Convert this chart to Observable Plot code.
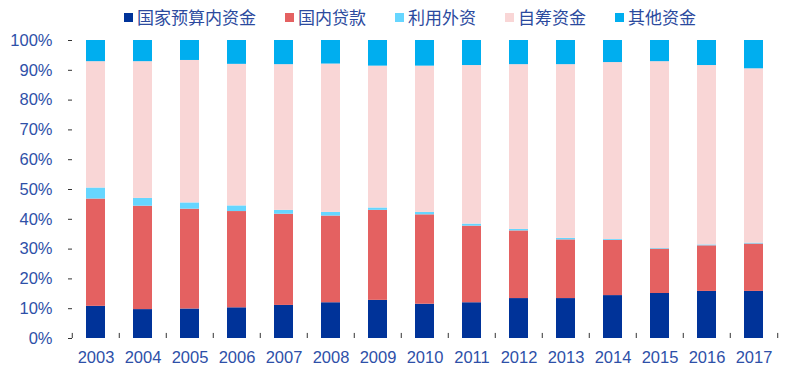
<!DOCTYPE html>
<html><head><meta charset="utf-8">
<script src="https://cdn.jsdelivr.net/npm/d3@7"></script>
<script src="https://cdn.jsdelivr.net/npm/@observablehq/plot@0.6"></script>
<style>
body{margin:0;background:#fff;}
#wrap{position:relative;width:789px;height:368px;}
#legend{position:absolute;left:124px;top:6px;display:flex;gap:29px;font-family:"Noto Sans CJK SC",sans-serif;font-size:17px;color:#2B4A9E;line-height:22px;}
#legend .it{display:flex;align-items:center;gap:4px;}
#legend .sw{width:9px;height:9px;display:inline-block;}
</style></head>
<body><div id="wrap"><div id="legend"></div></div>
<script>
const years = ["2003","2004","2005","2006","2007","2008","2009","2010","2011","2012","2013","2014","2015","2016","2017"];
const series = ["国家预算内资金","国内贷款","利用外资","自筹资金","其他资金"];
const colors = ["#003399","#E46161","#66D6FF","#F9D6D6","#00AEEF"];
const budget   = [10.8, 9.7, 9.9,10.3,11.1,12.0,12.8,11.5,12.0,13.4,13.4,14.4,15.1,15.8,15.8];
const loans    = [36.0,34.7,33.5,32.3,30.6,29.1,30.2,30.0,25.7,22.7,19.7,18.5,14.9,15.3,15.9];
const foreign  = [ 3.7, 2.6, 2.1, 1.9, 1.3, 1.2, 0.8, 0.8, 0.7, 0.5, 0.5, 0.3, 0.2, 0.3, 0.3];
const selfRaised=[42.4,45.9,47.8,47.5,48.9,49.8,47.6,49.1,53.2,55.3,58.3,59.4,62.7,60.2,58.5];
const other    = [ 7.1, 7.1, 6.7, 8.0, 8.1, 7.9, 8.6, 8.6, 8.4, 8.1, 8.1, 7.4, 7.1, 8.4, 9.5];
const yTicks = [0,0.1,0.2,0.3,0.4,0.5,0.6,0.7,0.8,0.9,1.0];

const cols = [budget, loans, foreign, selfRaised, other];
const data = [];
years.forEach((yr,i)=>series.forEach((s,j)=>data.push({year:yr, series:s, value:cols[j][i]/100})));

const step = (789-68-9)/years.length;
const txt = "#2E50A8";
const chart = Plot.plot({
  width:789, height:368,
  marginLeft:68, marginRight:9, marginTop:40, marginBottom:30,
  style:{fontFamily:"'Liberation Sans', Arial, sans-serif", fontSize:"16.5px", background:"#fff"},
  x:{type:"band", domain:years, paddingInner:0.6, paddingOuter:0.3},
  y:{domain:[0,1]},
  color:{domain:series, range:colors},
  marks:[
    Plot.barY(data,{x:"year", y:"value", fill:"series", order:series}),
    Plot.axisY({ticks:yTicks, tickFormat:d3.format(".0%"), tickSize:0, tickPadding:16, label:null, fill:txt, line:true, stroke:"#333"}),
    Plot.axisY({ticks:yTicks, tickSize:4, dx:4, text:null, label:null, stroke:"#333"}),
    Plot.axisX({tickSize:0, tickPadding:13, label:null, fill:txt, line:true, stroke:"#333"}),
    Plot.ruleX(years,{x:d=>d, y1:0, y2:0.017, dx:-step/2, stroke:"#333"}),
    Plot.ruleX([years[years.length-1]],{x:d=>d, y1:0, y2:0.017, dx:step/2, stroke:"#333"})
  ]
});
document.getElementById("wrap").appendChild(chart);
const lg = document.getElementById("legend");
series.forEach((s,i)=>{
  const it=document.createElement("div"); it.className="it";
  const sw=document.createElement("span"); sw.className="sw"; sw.style.background=colors[i];
  const t=document.createElement("span"); t.textContent=s;
  it.appendChild(sw); it.appendChild(t); lg.appendChild(it);
});
</script></body></html>
